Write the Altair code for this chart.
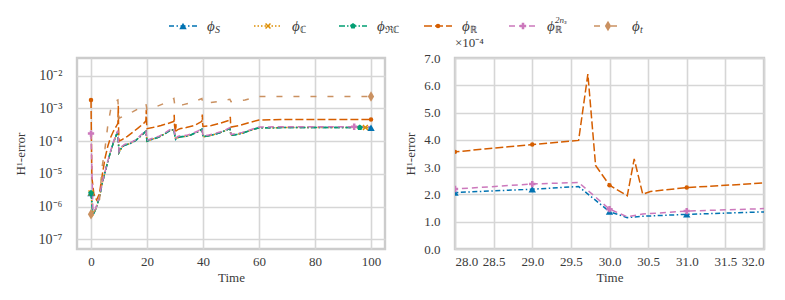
import altair as alt
import pandas as pd

# ---------------- data ----------------
series_names = ["S", "C", "RC", "R", "R2ns", "t"]
series_colors = ["#0173b2", "#de8f05", "#029e73", "#d55e00", "#cc78bc", "#ca9161"]
series_dash = [[5, 2.5, 1.5, 2.5], [1.5, 2], [6, 2, 1.5, 2], [8, 3], [6, 4], [6, 11]]
legend_sub_it = ["S", "", "", "", "", "t"]
legend_sub_up = ["", "ℂ", "ℜℂ", "ℝ", "ℝ", ""]
legend_sup = ["", "", "", "", "2nₛ", ""]

t_low = [0, 0.7, 1.6, 3, 4, 5, 6, 7, 8, 9,
         9.6, 10, 11, 12, 14, 16, 18, 19.6, 20, 22,
         24, 26, 28, 29, 29.6, 30, 30.23, 30.43, 31, 32,
         34, 36, 38, 39.6, 40, 42, 44, 46, 48, 49.6,
         50, 52, 54, 56, 58, 60, 70, 80, 90, 94,
         96, 98, 100]
phi_S = [2.6e-6, 5.6e-7, 8.0e-7, 1.9e-6, 5.2e-6, 1.1e-5, 2.4e-5, 4.8e-5, 9.0e-5, 1.5e-4,
         2.0e-4, 4.5e-5, 6.5e-5, 7.5e-5, 8.5e-5, 1.05e-4, 1.5e-4, 2.0e-4, 1.0e-4, 1.15e-4,
         1.3e-4, 1.6e-4, 2.07e-4, 2.19e-4, 2.29e-4, 1.37e-4, 1.15e-4, 1.2e-4, 1.27e-4, 1.36e-4,
         1.4e-4, 1.6e-4, 1.9e-4, 2.3e-4, 1.35e-4, 1.45e-4, 1.6e-4, 1.8e-4, 2.1e-4, 2.45e-4,
         1.5e-4, 1.6e-4, 1.75e-4, 2.0e-4, 2.3e-4, 2.55e-4, 2.6e-4, 2.6e-4, 2.6e-4, 2.6e-4,
         2.6e-4, 2.6e-4, 2.55e-4]
phi_C = list(phi_S)
phi_RC = list(phi_S)
phi_R2ns = [1.7e-4, 7.0e-7, 8.5e-7, 2.0e-6, 5.5e-6, 1.15e-5, 2.5e-5, 5.0e-5, 9.5e-5, 1.6e-4,
            2.1e-4, 4.8e-5, 6.9e-5, 8.0e-5, 9.0e-5, 1.1e-4, 1.6e-4, 2.15e-4, 1.07e-4, 1.22e-4,
            1.38e-4, 1.7e-4, 2.2e-4, 2.38e-4, 2.44e-4, 1.46e-4, 1.18e-4, 1.28e-4, 1.39e-4, 1.48e-4,
            1.5e-4, 1.7e-4, 2.0e-4, 2.45e-4, 1.43e-4, 1.55e-4, 1.7e-4, 1.9e-4, 2.2e-4, 2.6e-4,
            1.6e-4, 1.7e-4, 1.85e-4, 2.1e-4, 2.4e-4, 2.7e-4, 2.75e-4, 2.75e-4, 2.75e-4, 2.75e-4,
            2.75e-4, 2.75e-4, 2.75e-4]

t_R = [0, 0.3, 1, 2, 3, 4, 5, 6, 7, 8,
       9, 9.6, 9.75, 9.85, 10, 11, 13, 15, 17, 19,
       19.6, 19.75, 19.85, 20, 22, 25, 28, 29, 29.6, 29.72,
       29.82, 30, 30.23, 30.32, 30.43, 30.53, 31, 32, 34, 37,
       39.6, 39.75, 39.85, 40, 43, 46, 49.6, 49.75, 49.85, 50,
       53, 56, 60, 70, 80, 90, 100]
phi_R = [1.8e-3, 8e-6, 2.5e-6, 1.6e-6, 2.5e-6, 9e-6, 3e-5, 7e-5, 1.3e-4, 2e-4,
         2.8e-4, 3.5e-4, 1.2e-3, 2.5e-4, 1.0e-4, 1.1e-4, 1.4e-4, 1.9e-4, 2.6e-4, 3.6e-4,
         4.2e-4, 9e-4, 3.5e-4, 2.4e-4, 2.6e-4, 3.0e-4, 3.56e-4, 3.83e-4, 3.98e-4, 6.41e-4,
         3.06e-4, 2.34e-4, 1.95e-4, 3.30e-4, 2.01e-4, 2.11e-4, 2.25e-4, 2.42e-4, 2.6e-4, 3.0e-4,
         4.0e-4, 6.5e-4, 3.5e-4, 2.8e-4, 3.0e-4, 3.5e-4, 4.4e-4, 5.5e-4, 3.5e-4, 2.7e-4,
         3.0e-4, 3.6e-4, 4.4e-4, 4.6e-4, 4.6e-4, 4.6e-4, 4.6e-4]

t_t = [0, 1, 2, 3, 4, 5, 6, 7, 8, 9,
       9.6, 10, 12, 15, 18, 19.6, 20, 23, 26, 29.6,
       30, 33, 36, 39.6, 40, 45, 49.6, 50, 55, 60,
       70, 80, 90, 100]
phi_t = [5.9e-7, 7e-7, 9e-7, 1.5e-6, 1.7e-5, 6e-5, 3e-4, 9e-4, 1.4e-3, 1.7e-3,
         1.8e-3, 5e-4, 6e-4, 8e-4, 1.1e-3, 1.4e-3, 9e-4, 1.1e-3, 1.4e-3, 2.0e-3,
         1.1e-3, 1.3e-3, 1.5e-3, 2.0e-3, 1.4e-3, 1.6e-3, 1.9e-3, 1.6e-3, 1.8e-3, 2.3e-3,
         2.3e-3, 2.3e-3, 2.3e-3, 2.3e-3]

left_marker_t = {"S": [0, 100], "C": [0, 98], "RC": [0, 96], "R": [0, 100], "R2ns": [0, 94], "t": [0, 100]}
right_marker_t = {"S": [28, 29, 30, 31], "R": [28, 29, 30, 31], "R2ns": [28, 29, 30, 31]}
right_series = ["S", "R2ns", "R"]

left_xticks = [0, 20, 40, 60, 80, 100]
left_yticks = [1e-7, 1e-6, 1e-5, 1e-4, 1e-3, 1e-2]
left_ylabels = ["10⁻⁷", "10⁻⁶", "10⁻⁵", "10⁻⁴", "10⁻³", "10⁻²"]
right_xticks = [28.0, 28.5, 29.0, 29.5, 30.0, 30.5, 31.0, 31.5, 32.0]
right_yticks = [0, 1e-4, 2e-4, 3e-4, 4e-4, 5e-4, 6e-4, 7e-4]

# ---------------- tables ----------------
series_data = {
    "S": (t_low, phi_S), "C": (t_low, phi_C), "RC": (t_low, phi_RC),
    "R": (t_R, phi_R), "R2ns": (t_low, phi_R2ns), "t": (t_t, phi_t),
}
rows = []
for s in series_names:
    ts, vs = series_data[s]
    for i, (tt, vv) in enumerate(zip(ts, vs)):
        rows.append({"series": s, "t": tt, "value": vv, "i": i})
df = pd.DataFrame(rows)

def markers(spec):
    parts = []
    for s, times in spec.items():
        parts.append(df[(df.series == s) & (df.t.isin(times))])
    return pd.concat(parts)

df_left_m = markers(left_marker_t)
df_right = df[df.series.isin(right_series)]
df_right_m = markers(right_marker_t)

SERIF = "Liberation Serif"
TXT = "#3a3a3a"

shape_paths = [
    "triangle-up",
    "M-1,-0.65L-0.65,-1L0,-0.35L0.65,-1L1,-0.65L0.35,0L1,0.65L0.65,1L0,0.35L-0.65,1L-1,0.65L-0.35,0Z",
    "M0,-1L0.951,-0.309L0.588,0.809L-0.588,0.809L-0.951,-0.309Z",
    "circle",
    "cross",
    "M0,-1L0.6,0L0,1L-0.6,0Z",
]
shape_sizes = [55, 36, 36, 20, 40, 110]

color_enc = alt.Color("series:N", scale=alt.Scale(domain=series_names, range=series_colors), legend=None)
dash_enc = alt.StrokeDash("series:N", scale=alt.Scale(domain=series_names, range=series_dash), legend=None)
shape_enc = alt.Shape("series:N", scale=alt.Scale(domain=series_names, range=shape_paths), legend=None)
size_enc = alt.Size("series:N", scale=alt.Scale(type="ordinal", domain=series_names, range=shape_sizes),
                    legend=None)

W_L, W_R, H = 308, 309, 191

# ---------------- left panel ----------------
label_expr = "[" + ",".join("'%s'" % l for l in left_ylabels) + "][round(log(datum.value)/LN10)+7]"
xl = alt.X("t:Q", scale=alt.Scale(domain=[-5, 105], nice=False, zero=False),
           axis=alt.Axis(values=left_xticks, title="Time"))
yl = alt.Y("value:Q", scale=alt.Scale(type="log", domain=[5.1e-8, 3.45e-2], nice=False),
           axis=alt.Axis(values=left_yticks, labelExpr=label_expr, title="H¹-error",
                         labelFontSize=14, labelPadding=15, minExtent=44, maxExtent=44, titlePadding=6))

left_lines = alt.Chart(df).mark_line(strokeWidth=1.5).encode(
    x=xl, y=yl, color=color_enc, strokeDash=dash_enc, order="i:Q")
left_pts = alt.Chart(df_left_m).mark_point(filled=True, opacity=1, strokeWidth=0).encode(
    x=xl, y=yl, color=color_enc, shape=shape_enc, size=size_enc)
left = alt.layer(left_lines, left_pts).properties(width=W_L, height=H)

# ---------------- right panel ----------------
xr = alt.X("t:Q", scale=alt.Scale(domain=[28, 32], nice=False, zero=False),
           axis=alt.Axis(values=right_xticks, format=".1f", title="Time"))
yr = alt.Y("value:Q", scale=alt.Scale(domain=[0, 7e-4], nice=False),
           axis=alt.Axis(values=right_yticks, labelExpr="format(datum.value*1e4, '.1f')", title="H¹-error",
                         labelPadding=15, minExtent=33, maxExtent=33, titlePadding=5))

right_lines = alt.Chart(df_right).mark_line(strokeWidth=1.5, clip=True).encode(
    x=xr, y=yr, color=color_enc, strokeDash=dash_enc, order="i:Q")
right_pts = alt.Chart(df_right_m).mark_point(filled=True, opacity=1, strokeWidth=0, clip=True).encode(
    x=xr, y=yr, color=color_enc, shape=shape_enc, size=size_enc)
right = alt.layer(right_lines, right_pts).properties(
    width=W_R, height=H,
    title=alt.TitleParams("×10⁻⁴", anchor="start", frame="group", fontSize=13,
                          font=SERIF, fontWeight="normal", color=TXT, offset=2))

# ---------------- legend ----------------
leg_df = pd.DataFrame({"series": series_names, "sub_it": legend_sub_it, "sub_up": legend_sub_up,
                       "sup": legend_sup, "phi": ["ϕ"] * len(series_names)})
lx = alt.X("series:N", scale=alt.Scale(type="point", domain=series_names, range=[106, 531], padding=0),
           axis=None)
LY = alt.value(12)
leg_rule = alt.Chart(leg_df).mark_rule(strokeWidth=1.5, xOffset=-14, x2Offset=14).encode(
    x=lx, x2="series:N", y=LY, color=color_enc, strokeDash=dash_enc)
leg_pts = alt.Chart(leg_df).mark_point(filled=True, opacity=1, strokeWidth=0).encode(
    x=lx, y=LY, color=color_enc, shape=shape_enc, size=size_enc)
leg_phi = alt.Chart(leg_df).mark_text(align="left", dx=24, fontSize=15, fontStyle="italic",
                                      font=SERIF, color=TXT).encode(x=lx, y=LY, text="phi:N")
leg_sub1 = alt.Chart(leg_df).mark_text(align="left", dx=32, dy=4, fontSize=10, fontStyle="italic",
                                       font=SERIF, color=TXT).encode(x=lx, y=LY, text="sub_it:N")
leg_sub2 = alt.Chart(leg_df).mark_text(align="left", dx=32, dy=4, fontSize=10,
                                       font=SERIF, color=TXT).encode(x=lx, y=LY, text="sub_up:N")
leg_sup = alt.Chart(leg_df).mark_text(align="left", dx=32, dy=-6, fontSize=9, fontStyle="italic",
                                      font=SERIF, color=TXT).encode(x=lx, y=LY, text="sup:N")
legend = alt.layer(leg_rule, leg_pts, leg_phi, leg_sub1, leg_sub2, leg_sup).properties(
    width=W_L + 70 + W_R, height=24, view=alt.ViewBackground(strokeWidth=0))

panels = alt.hconcat(left, right, spacing=70, bounds="flush")
chart = alt.vconcat(legend, panels, spacing=20, bounds="flush").properties(
    padding={"left": 4, "top": 6, "right": 5, "bottom": 5}, background="white"
).configure(font=SERIF).configure_view(
    stroke="#cccccc", strokeWidth=2.4
).configure_axis(
    labelFont=SERIF, titleFont=SERIF, labelFontSize=13, titleFontSize=13,
    labelColor=TXT, titleColor=TXT, titleFontWeight="normal",
    ticks=False, domain=False, grid=True, gridColor="#d6d6d6", gridWidth=1.6
).configure_axisX(labelPadding=6, titlePadding=3)

chart.save("out.html", embed_options={"renderer": "svg", "actions": False})
